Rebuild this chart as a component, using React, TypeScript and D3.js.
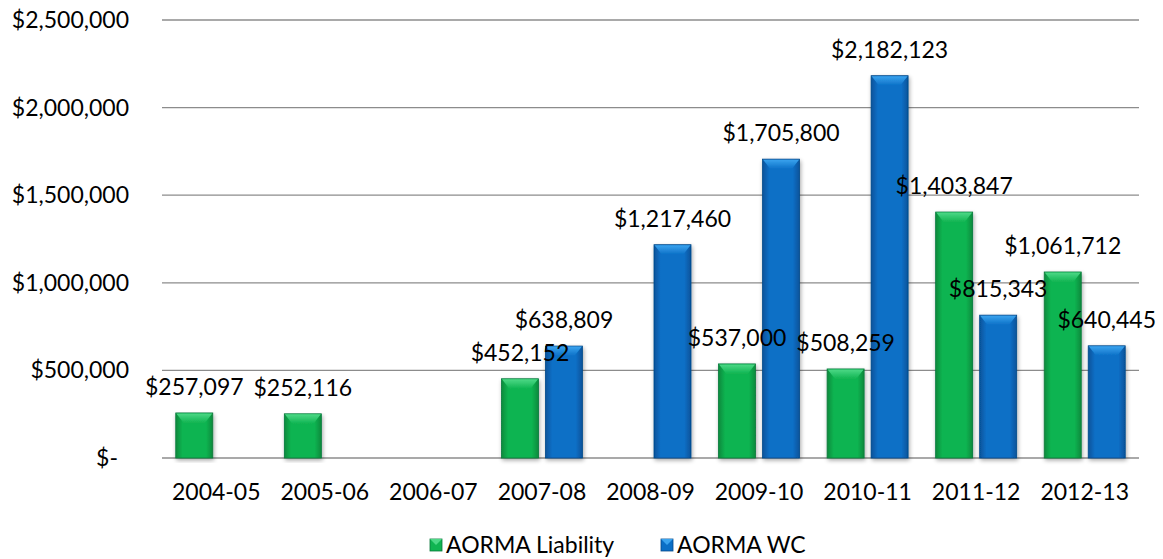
import { useEffect, useRef } from 'react';
import * as d3 from 'd3';

const years = ['2004-05', '2005-06', '2006-07', '2007-08', '2008-09', '2009-10', '2010-11', '2011-12', '2012-13'];
const liability: (number | null)[] = [257097, 252116, null, 452152, null, 537000, 508259, 1403847, 1061712];
const wc: (number | null)[] = [null, null, null, 638809, 1217460, 1705800, 2182123, 815343, 640445];
const yTicks = [0, 500000, 1000000, 1500000, 2000000, 2500000];
const seriesNames = ['AORMA Liability', 'AORMA WC'];

const palette = [
  { base: '#10b451', dark: '#0a8a3c', light: '#4cd886', edge: '#08783a' },
  { base: '#0b6fc6', dark: '#07539a', light: '#3aa3ee', edge: '#064a8a' },
];

const W = 1163;
const H = 559;
const FONT = 'Lato, "Open Sans", sans-serif';
const FS = 23;

export default function App() {
  const ref = useRef<SVGSVGElement>(null);

  useEffect(() => {
    const el = ref.current;
    if (!el) return;
    const svg = d3.select(el);
    svg.selectAll('*').remove();

    const left = 162;
    const right = 1139;
    const top = 20;
    const bottom = 458;

    const x = d3.scaleBand<string>().domain(years).range([left, right]);
    const y = d3.scaleLinear().domain([0, 2500000]).range([bottom, top]);
    const barW = 37;
    const gap = 7;

    const defs = svg.append('defs');
    palette.forEach((c, i) => {
      const g = defs.append('linearGradient').attr('id', `bar${i}`).attr('x1', '0').attr('x2', '1').attr('y1', '0').attr('y2', '0');
      g.append('stop').attr('offset', '0%').attr('stop-color', c.dark);
      g.append('stop').attr('offset', '18%').attr('stop-color', c.base);
      g.append('stop').attr('offset', '82%').attr('stop-color', c.base);
      g.append('stop').attr('offset', '100%').attr('stop-color', c.dark);
      const t = defs.append('linearGradient').attr('id', `top${i}`).attr('x1', '0').attr('x2', '0').attr('y1', '0').attr('y2', '1');
      t.append('stop').attr('offset', '0%').attr('stop-color', c.light);
      t.append('stop').attr('offset', '100%').attr('stop-color', c.base);
    });
    const sh = defs.append('filter').attr('id', 'shadow').attr('x', '-20%').attr('y', '-5%').attr('width', '140%').attr('height', '115%');
    sh.append('feGaussianBlur').attr('in', 'SourceAlpha').attr('stdDeviation', 2);
    sh.append('feOffset').attr('dx', 1).attr('dy', 2).attr('result', 'b');
    sh.append('feComponentTransfer').append('feFuncA').attr('type', 'linear').attr('slope', 0.35);
    const merge = sh.append('feMerge');
    merge.append('feMergeNode');
    merge.append('feMergeNode').attr('in', 'SourceGraphic');

    // gridlines
    svg
      .append('g')
      .selectAll('line')
      .data(yTicks)
      .join('line')
      .attr('x1', left)
      .attr('x2', right)
      .attr('y1', (d) => y(d))
      .attr('y2', (d) => y(d))
      .attr('stroke', '#8c8c8c')
      .attr('stroke-width', 1.3);

    // y labels
    svg
      .append('g')
      .selectAll('text')
      .data(yTicks)
      .join('text')
      .attr('x', (d) => (d === 0 ? 118 : 129))
      .attr('y', (d) => y(d) + 8)
      .attr('text-anchor', 'end')
      .attr('font-family', FONT)
      .attr('font-size', FS)
      .attr('fill', '#000')
      .text((d) => (d === 0 ? '$-' : d3.format('$,')(d)));

    // x labels
    svg
      .append('g')
      .selectAll('text')
      .data(years)
      .join('text')
      .attr('x', (d) => (x(d) ?? 0) + x.bandwidth() / 2)
      .attr('y', 500)
      .attr('text-anchor', 'middle')
      .attr('font-family', FONT)
      .attr('font-size', FS)
      .text((d) => d);

    const bars: { s: number; year: string; v: number; x0: number }[] = [];
    [liability, wc].forEach((arr, s) => {
      arr.forEach((v, i) => {
        if (v == null) return;
        const cx = (x(years[i]) ?? 0) + x.bandwidth() / 2;
        const x0 = s === 0 ? cx - gap / 2 - barW : cx + gap / 2;
        bars.push({ s, year: years[i], v, x0 });
      });
    });

    const bg = svg.append('g');
    bars.forEach((b) => {
      const c = palette[b.s];
      const y0 = y(b.v);
      const h = bottom - y0;
      const g = bg.append('g').attr('filter', 'url(#shadow)');
      g.append('rect')
        .attr('x', b.x0)
        .attr('y', y0)
        .attr('width', barW)
        .attr('height', h)
        .attr('fill', `url(#bar${b.s})`)
        .attr('stroke', c.edge)
        .attr('stroke-width', 0.8);
      const bev = Math.min(10, h / 2);
      g.append('polygon')
        .attr('points', [
          [b.x0 + 0.5, y0 + 0.5],
          [b.x0 + barW - 0.5, y0 + 0.5],
          [b.x0 + barW - 8, y0 + bev],
          [b.x0 + 8, y0 + bev],
        ].map((p) => p.join(',')).join(' '))
        .attr('fill', `url(#top${b.s})`);
    });

    // value labels
    svg
      .append('g')
      .selectAll('text')
      .data(bars)
      .join('text')
      .attr('x', (d) => d.x0 + barW / 2)
      .attr('y', (d) => y(d.v) - 18)
      .attr('text-anchor', 'middle')
      .attr('font-family', FONT)
      .attr('font-size', FS)
      .attr('fill', '#000')
      .text((d) => d3.format('$,')(d.v));

    // legend
    const legendX = [430, 661];
    const lg = svg.append('g');
    seriesNames.forEach((name, i) => {
      const c = palette[i];
      lg.append('rect')
        .attr('x', legendX[i])
        .attr('y', 539)
        .attr('width', 12)
        .attr('height', 12)
        .attr('fill', c.base)
        .attr('stroke', c.edge)
        .attr('stroke-width', 0.8);
      lg.append('polygon')
        .attr('points', `${legendX[i]},539 ${legendX[i] + 12},539 ${legendX[i] + 6},545`)
        .attr('fill', c.light);
      lg.append('text')
        .attr('x', legendX[i] + 16)
        .attr('y', 553)
        .attr('font-family', FONT)
        .attr('font-size', FS)
        .text(name);
    });
  }, []);

  return <svg ref={ref} width={W} height={H} style={{ position: 'absolute', left: 0, top: 0, background: '#fff' }} />;
}
